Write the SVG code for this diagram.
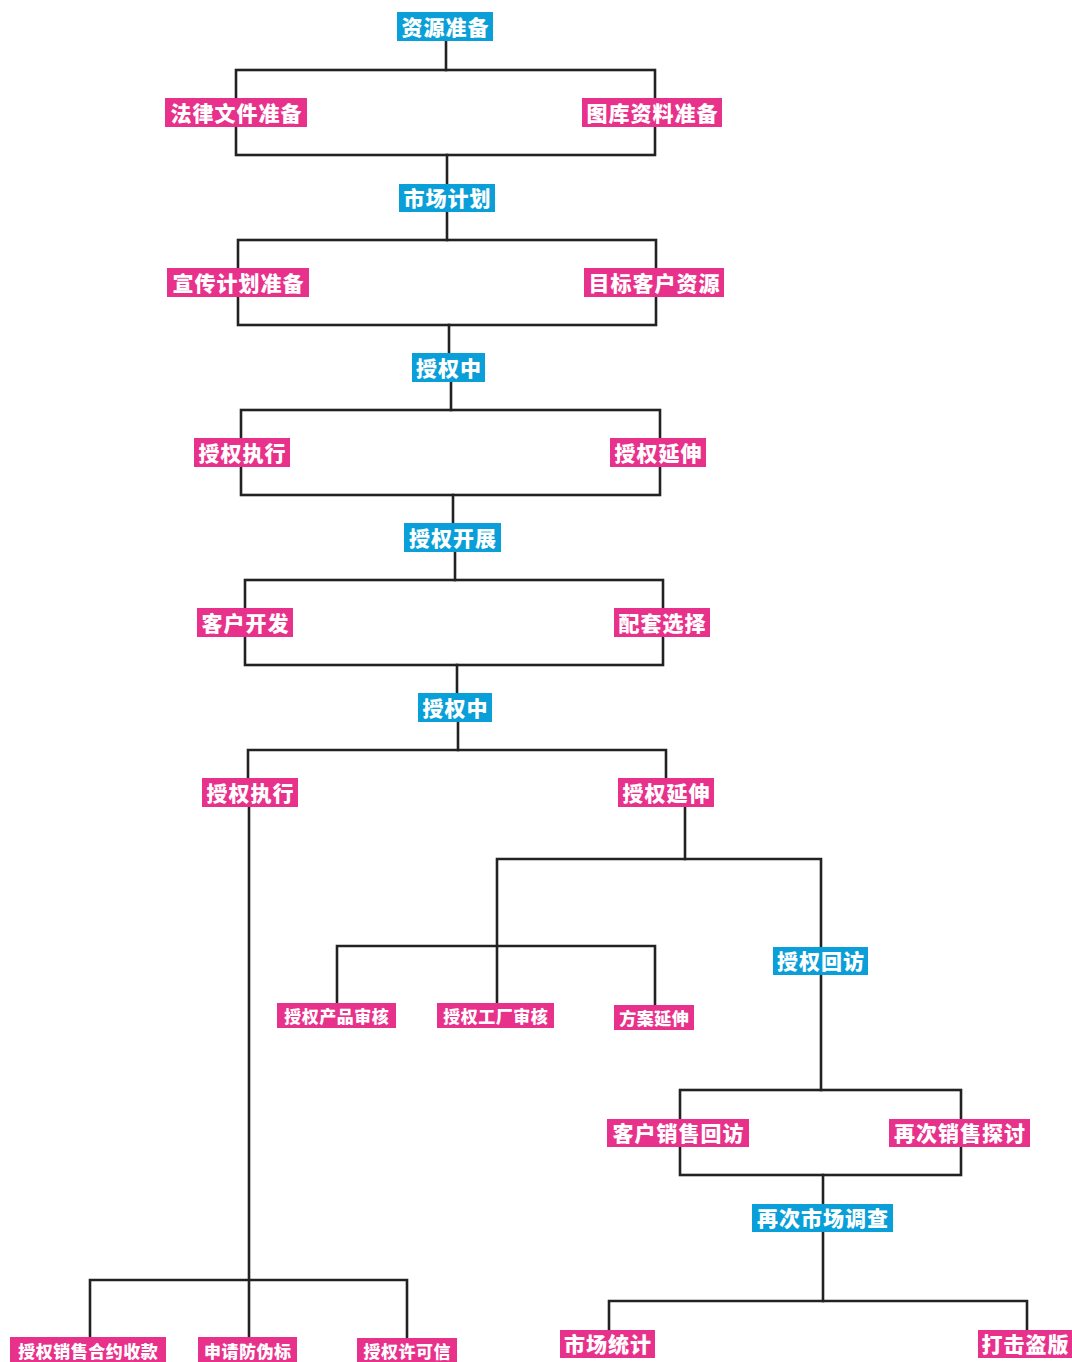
<svg xmlns="http://www.w3.org/2000/svg" width="1072" height="1362" viewBox="0 0 1072 1362">
<style>
.c{fill:none;stroke:#222;stroke-width:2.6;stroke-linecap:square}
.b{fill:#0a9fd8}
.p{fill:#e8318a}
.t{fill:#fff;font-family:"Noto Sans CJK SC","Noto Sans",sans-serif;font-weight:900;font-size:21px;letter-spacing:1px;text-anchor:middle;dominant-baseline:central}
.s{font-size:17px;letter-spacing:0.5px}
</style>
<rect width="1072" height="1362" fill="#fff"/>
<g id="connectors">
<path class="c" d="M446 41V70"/>
<rect class="c" x="236" y="70" width="419" height="85"/>
<path class="c" d="M447 155V184"/>
<path class="c" d="M447 212V240"/>
<rect class="c" x="238" y="240" width="418" height="85"/>
<path class="c" d="M449 325V353"/>
<path class="c" d="M451 382V410"/>
<rect class="c" x="241" y="410" width="419" height="85"/>
<path class="c" d="M453 495V523"/>
<path class="c" d="M455 552V580"/>
<rect class="c" x="245" y="580" width="418" height="85"/>
<path class="c" d="M457 665V693"/>
<path class="c" d="M458 722V750"/>
<path class="c" d="M248 778V750H666V778"/>
<path class="c" d="M249 807V1337"/>
<path class="c" d="M90 1337V1280H407V1337"/>
<path class="c" d="M685 807V859"/>
<path class="c" d="M497 1003V859H821V947"/>
<path class="c" d="M337 1003V946H655V1005"/>
<path class="c" d="M821 975V1090"/>
<rect class="c" x="680" y="1090" width="281" height="85"/>
<path class="c" d="M823 1175V1204"/>
<path class="c" d="M823 1232V1301"/>
<path class="c" d="M609 1330V1301H1027V1330"/>
</g>
<g id="n1"><rect class="b" x="397" y="12" width="96" height="29"/><text class="t" x="445.5" y="26">资源准备</text></g>
<g id="n2"><rect class="p" x="165" y="98" width="142" height="29"/><text class="t" x="236.5" y="112">法律文件准备</text></g>
<g id="n3"><rect class="p" x="582" y="98" width="140" height="29"/><text class="t" x="652.5" y="112">图库资料准备</text></g>
<g id="n4"><rect class="b" x="399" y="184" width="96" height="28"/><text class="t" x="447.5" y="197">市场计划</text></g>
<g id="n5"><rect class="p" x="167" y="268" width="142" height="29"/><text class="t" x="238.5" y="282">宣传计划准备</text></g>
<g id="n6"><rect class="p" x="584" y="268" width="140" height="29"/><text class="t" x="654.5" y="282">目标客户资源</text></g>
<g id="n7"><rect class="b" x="412" y="353" width="73" height="29"/><text class="t" x="449" y="367">授权中</text></g>
<g id="n8"><rect class="p" x="194" y="438" width="96" height="29"/><text class="t" x="242.5" y="452">授权执行</text></g>
<g id="n9"><rect class="p" x="610" y="438" width="96" height="29"/><text class="t" x="658.5" y="452">授权延伸</text></g>
<g id="n10"><rect class="b" x="404" y="523" width="97" height="29"/><text class="t" x="453" y="537">授权开展</text></g>
<g id="n11"><rect class="p" x="197" y="608" width="96" height="29"/><text class="t" x="245.5" y="622">客户开发</text></g>
<g id="n12"><rect class="p" x="614" y="608" width="96" height="29"/><text class="t" x="662.5" y="622">配套选择</text></g>
<g id="n13"><rect class="b" x="418" y="693" width="74" height="29"/><text class="t" x="455.5" y="707">授权中</text></g>
<g id="n14"><rect class="p" x="202" y="778" width="96" height="29"/><text class="t" x="250.5" y="792">授权执行</text></g>
<g id="n15"><rect class="p" x="618" y="778" width="96" height="29"/><text class="t" x="666.5" y="792">授权延伸</text></g>
<g id="n16"><rect class="p" x="277" y="1003" width="119" height="25"/><text class="t s" x="336.75" y="1015">授权产品审核</text></g>
<g id="n17"><rect class="p" x="437" y="1003" width="117" height="25"/><text class="t s" x="495.75" y="1015">授权工厂审核</text></g>
<g id="n18"><rect class="p" x="614" y="1005" width="80" height="25"/><text class="t s" x="654.25" y="1017">方案延伸</text></g>
<g id="n19"><rect class="b" x="773" y="947" width="95" height="28"/><text class="t" x="821" y="960">授权回访</text></g>
<g id="n20"><rect class="p" x="607" y="1119" width="142" height="28"/><text class="t" x="678.5" y="1132">客户销售回访</text></g>
<g id="n21"><rect class="p" x="889" y="1119" width="141" height="28"/><text class="t" x="960" y="1132">再次销售探讨</text></g>
<g id="n22"><rect class="b" x="752" y="1204" width="141" height="28"/><text class="t" x="823" y="1217">再次市场调查</text></g>
<g id="n23"><rect class="p" x="560" y="1330" width="95" height="28"/><text class="t" x="608" y="1343">市场统计</text></g>
<g id="n24"><rect class="p" x="978" y="1330" width="94" height="28"/><text class="t" x="1025.5" y="1343">打击盗版</text></g>
<g id="n25"><rect class="p" x="10" y="1337" width="156" height="25"/><text class="t s" x="88.25" y="1350">授权销售合约收款</text></g>
<g id="n26"><rect class="p" x="198" y="1337" width="99" height="25"/><text class="t s" x="247.75" y="1350">申请防伪标</text></g>
<g id="n27"><rect class="p" x="357" y="1338" width="100" height="24"/><text class="t s" x="407.25" y="1350">授权许可信</text></g>
</svg>
